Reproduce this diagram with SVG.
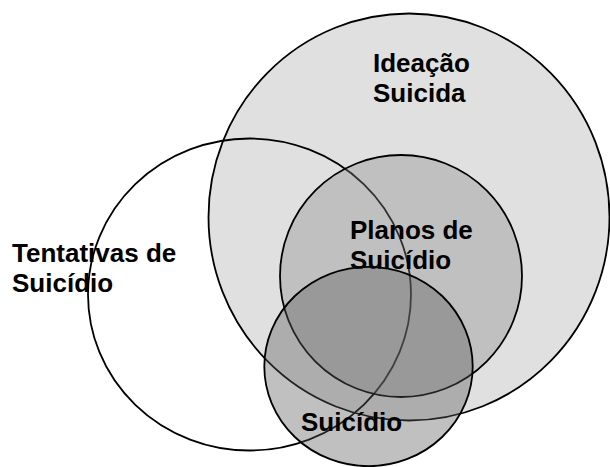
<svg xmlns="http://www.w3.org/2000/svg" width="610" height="467" viewBox="0 0 610 467">
<style>
.c{stroke:#000;stroke-width:1.8}
.t{font-family:"Liberation Sans",Arial,sans-serif;font-weight:bold;font-size:26px;fill:#000}
</style>
<rect width="610" height="467" fill="#fff"/>
<g id="ideacao">
<ellipse class="c" cx="409" cy="217" rx="200.5" ry="203.5" fill="#e0e0e0"/>
<text class="t" x="373" y="72">Ideação</text>
<text class="t" x="373" y="102">Suicida</text>
</g>
<g id="tentativas">
<ellipse class="c" cx="249.5" cy="294.5" rx="161.5" ry="156" fill="none"/>
<text class="t" x="12" y="262">Tentativas de</text>
<text class="t" x="12" y="292">Suicídio</text>
</g>
<g id="planos">
<circle class="c" cx="401" cy="276" r="121" fill="#868686" fill-opacity="0.357"/>
<text class="t" x="350" y="239">Planos de</text>
<text class="t" x="350" y="269">Suicídio</text>
</g>
<g id="suicidio">
<ellipse class="c" cx="368.5" cy="366.5" rx="104.2" ry="99.7" fill="#595959" fill-opacity="0.38"/>
<text class="t" x="301" y="431">Suicídio</text>
</g>
<g id="connectors"/>
</svg>
